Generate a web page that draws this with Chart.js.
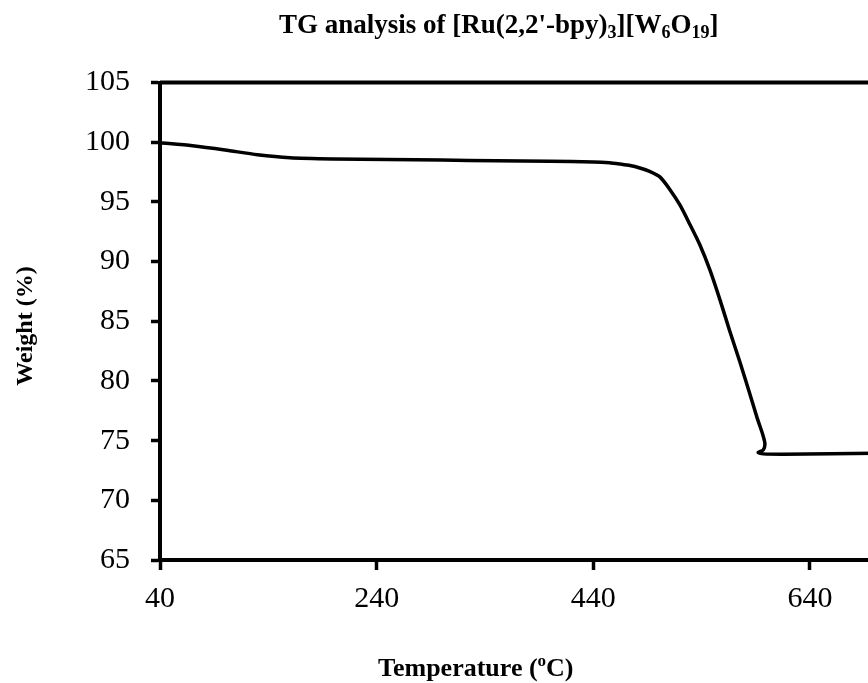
<!DOCTYPE html>
<html>
<head>
<meta charset="utf-8">
<script src="https://cdn.jsdelivr.net/npm/chart.js@4.4.1/dist/chart.umd.min.js"></script>
<style>
  html, body { margin: 0; padding: 0; background: #fff; overflow: hidden; }
  #clip { width: 868px; height: 683px; overflow: hidden; position: relative; }
  #wrap { width: 1060px; height: 683px; }
</style>
</head>
<body>
<div id="clip"><div id="wrap"><canvas id="c" width="1060" height="683"></canvas></div></div>
<script>
// Data
const temperature = [40, 70, 100, 130, 160, 200, 250, 300, 350, 400, 440, 455, 465, 474, 483, 492, 501.5, 511, 520, 529, 538.5, 547.7, 557, 566, 575.4, 584.6, 591, 596.6, 598.5, 597, 594, 592.3, 597, 615, 660, 700, 760];
const weight = [99.95, 99.7, 99.35, 98.95, 98.7, 98.6, 98.55, 98.5, 98.45, 98.4, 98.35, 98.28, 98.17, 98.05, 97.84, 97.55, 97.09, 96.0, 94.74, 93.15, 91.39, 89.3, 86.79, 84.19, 81.59, 78.91, 76.99, 75.48, 74.73, 74.22, 74.08, 74.0, 73.89, 73.86, 73.9, 73.94, 73.95];
const xTicks = [40, 240, 440, 640, 840];
const yTicks = [65, 70, 75, 80, 85, 90, 95, 100, 105];
const titleParts = [["TG analysis of [Ru(2,2'-bpy)", false], ["3", true], ["][W", false], ["6", true], ["O", false], ["19", true], ["]", false]];
const xTitleParts = [["Temperature (", false, false], ["o", false, true], ["C)", false, false]];
const yTitle = "Weight (%)";

const SERIF = "'Liberation Serif', 'Times New Roman', serif";

const points = temperature.map((t, i) => ({ x: t, y: weight[i] }));

const textPlugin = {
  id: 'richText',
  afterDraw(chart) {
    const ctx = chart.ctx;
    const ca = chart.chartArea;
    ctx.save();
    // plot-area border (top and right)
    ctx.strokeStyle = '#000';
    ctx.lineWidth = 4;
    ctx.beginPath();
    ctx.moveTo(ca.left, ca.top);
    ctx.lineTo(ca.right, ca.top);
    ctx.lineTo(ca.right, ca.bottom);
    ctx.stroke();

    ctx.fillStyle = '#000';
    ctx.textBaseline = 'alphabetic';
    ctx.textAlign = 'left';
    // main title with subscripts
    const big = 27, small = 18;
    let x = 279;
    const base = 33;
    for (const [t, sub] of titleParts) {
      ctx.font = 'bold ' + (sub ? small : big) + 'px ' + SERIF;
      ctx.fillText(t, x, sub ? base + 5 : base);
      x += ctx.measureText(t).width;
    }
    // x axis title with superscript
    const ab = 26, as = 17;
    x = 378;
    const xb = 676;
    for (const [t, sub, sup] of xTitleParts) {
      ctx.font = 'bold ' + (sup ? as : ab) + 'px ' + SERIF;
      ctx.fillText(t, x, sup ? xb - 10 : xb);
      x += ctx.measureText(t).width;
    }
    // y axis title rotated
    ctx.translate(32, 326);
    ctx.rotate(-Math.PI / 2);
    ctx.font = 'bold 24px ' + SERIF;
    ctx.textAlign = 'center';
    ctx.fillText(yTitle, 0, 0);
    ctx.restore();
  }
};

new Chart(document.getElementById('c'), {
  type: 'scatter',
  data: {
    datasets: [{
      label: 'Weight',
      data: points,
      showLine: true,
      borderColor: '#000',
      backgroundColor: '#000',
      borderWidth: 3.5,
      pointRadius: 0,
      tension: 0.25,
      fill: false
    }]
  },
  options: {
    responsive: false,
    animation: false,
    devicePixelRatio: 1,
    layout: { padding: { left: 0, top: 82.5, right: 33.3, bottom: 0 } },
    plugins: {
      legend: { display: false },
      tooltip: { enabled: false },
      title: { display: false, text: "TG analysis of [Ru(2,2'-bpy)3][W6O19]" }
    },
    scales: {
      x: {
        type: 'linear',
        position: 'bottom',
        min: 40,
        max: 840,
        afterBuildTicks(scale) { scale.ticks = xTicks.map(v => ({ value: v })); },
        afterFit(scale) { scale.height = 683 - 560; },
        ticks: {
          color: '#000',
          font: { family: SERIF, size: 30 },
          padding: 11,
          maxRotation: 0
        },
        grid: { drawOnChartArea: false, drawTicks: true, tickLength: 10, tickWidth: 3.5, tickColor: '#000' },
        border: { display: true, color: '#000', width: 4 },
        title: { display: false, text: 'Temperature (oC)' }
      },
      y: {
        type: 'linear',
        min: 65,
        max: 105,
        afterBuildTicks(scale) { scale.ticks = yTicks.map(v => ({ value: v })); },
        afterFit(scale) { scale.width = 160; },
        ticks: {
          color: '#000',
          font: { family: SERIF, size: 30 },
          padding: 21
        },
        grid: { drawOnChartArea: false, drawTicks: true, tickLength: 9, tickWidth: 3.5, tickColor: '#000' },
        border: { display: true, color: '#000', width: 4 },
        title: { display: false, text: 'Weight (%)' }
      }
    }
  },
  plugins: [textPlugin]
});
</script>
</body>
</html>
